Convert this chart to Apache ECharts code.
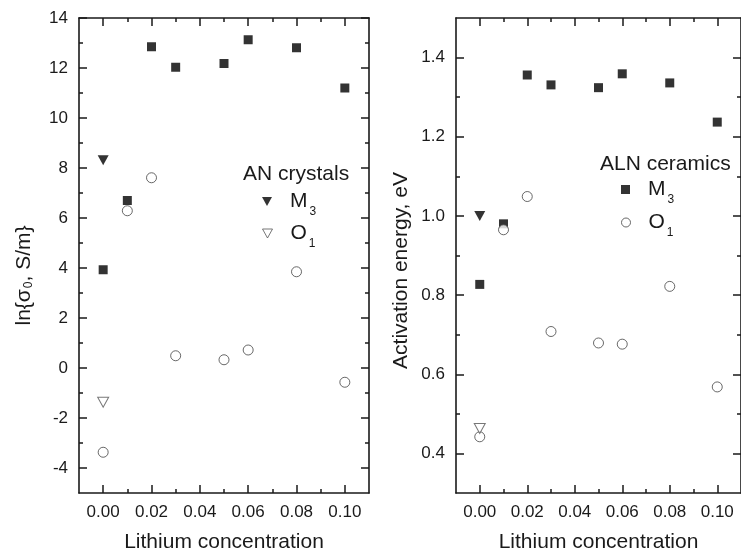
<!DOCTYPE html>
<html><head><meta charset="utf-8">
<script src="https://cdn.jsdelivr.net/npm/echarts@6/dist/echarts.min.js"></script>
<style>html,body{margin:0;padding:0;background:#fff}#c{width:741px;height:558px}</style>
</head><body><div id="c"></div>
<script>
// ---- data ----
const lithium = [0.00, 0.01, 0.02, 0.03, 0.05, 0.06, 0.08, 0.10];
const anLithium = [0.00];
const lnSigmaAlnM3 = [3.93, 6.70, 12.85, 12.03, 12.18, 13.13, 12.81, 11.20];
const lnSigmaAlnO1 = [-3.37, 6.29, 7.61, 0.49, 0.33, 0.72, 3.85, -0.57];
const lnSigmaAnM3 = [8.31];
const lnSigmaAnO1 = [-1.37];
const energyAlnM3 = [0.827, 0.980, 1.356, 1.331, 1.324, 1.359, 1.336, 1.237];
const energyAlnO1 = [0.442, 0.965, 1.049, 0.708, 0.679, 0.676, 0.822, 0.568];
const energyAnM3 = [1.0];
const energyAnO1 = [0.463];
// ---- ticks ----
const xMajorTicks = [0.00, 0.02, 0.04, 0.06, 0.08, 0.10];
const xMinorTicks = [0.01, 0.03, 0.05, 0.07, 0.09];
const lnSigmaMajorTicks = [-4, -2, 0, 2, 4, 6, 8, 10, 12, 14];
const lnSigmaMinorTicks = [-3, -1, 1, 3, 5, 7, 9, 11, 13];
const energyMajorTicks = [0.4, 0.6, 0.8, 1.0, 1.2, 1.4];
const energyMinorTicks = [0.5, 0.7, 0.9, 1.1, 1.3];

const FONT = '"Liberation Sans", Arial, sans-serif';
const INK = '#1a1a1a';
const pairs = (xs, ys) => xs.map((x, i) => [x, ys[i]]);

function mkAxis(gridIndex, position, min, max, ticks, len, main, fmt) {
  return {
    type: 'value', gridIndex, position, min, max,
    axisLine: { show: main, onZero: false, lineStyle: { color: INK, width: 1.6 } },
    axisTick: { show: true, inside: true, length: len, customValues: ticks, lineStyle: { color: INK, width: 1.5 } },
    axisLabel: fmt ? { show: true, customValues: ticks, formatter: fmt, fontSize: 17, fontFamily: FONT, color: INK, margin: 11 } : { show: false },
    splitLine: { show: false }
  };
}

const xFmt = v => v.toFixed(2);
const xAxes = [];
const yAxes = [];
[0, 1].forEach(g => {
  xAxes.push(Object.assign(mkAxis(g, 'bottom', -0.01, 0.11, xMajorTicks, 8, true, xFmt), {
    name: 'Lithium concentration', nameLocation: 'middle', nameGap: 39,
    nameTextStyle: { fontSize: 21, fontFamily: FONT, color: INK }
  }));
  xAxes.push(mkAxis(g, 'bottom', -0.01, 0.11, xMinorTicks, 4, false, null));
  xAxes.push(mkAxis(g, 'top', -0.01, 0.11, xMajorTicks, 8, true, null));
  xAxes.push(mkAxis(g, 'top', -0.01, 0.11, xMinorTicks, 4, false, null));
});
// left grid y
yAxes.push(Object.assign(mkAxis(0, 'left', -5, 14, lnSigmaMajorTicks, 8, true, v => String(v)), {
  name: '{m|ln{σ}{s|0}{m|, S/m}}', nameLocation: 'middle', nameGap: 44,
  nameTextStyle: { fontSize: 21, fontFamily: FONT, color: INK, padding: [0, 40, 0, 0],
    rich: { m: { fontSize: 21, fontFamily: FONT, color: INK }, s: { fontSize: 12, fontFamily: FONT, color: INK, padding: [10, 0, 0, 1] } } }
}));
yAxes.push(mkAxis(0, 'left', -5, 14, lnSigmaMinorTicks, 4, false, null));
yAxes.push(mkAxis(0, 'right', -5, 14, lnSigmaMajorTicks, 8, true, null));
yAxes.push(mkAxis(0, 'right', -5, 14, lnSigmaMinorTicks, 4, false, null));
// right grid y
yAxes.push(Object.assign(mkAxis(1, 'left', 0.3, 1.5, energyMajorTicks, 8, true, v => v.toFixed(1)), {
  name: 'Activation energy, eV', nameLocation: 'middle', nameGap: 44,
  nameTextStyle: { fontSize: 21, fontFamily: FONT, color: INK, padding: [0, 30, 0, 0] }
}));
yAxes.push(mkAxis(1, 'left', 0.3, 1.5, energyMinorTicks, 4, false, null));
yAxes.push(mkAxis(1, 'right', 0.3, 1.5, energyMajorTicks, 8, true, null));
yAxes.push(mkAxis(1, 'right', 0.3, 1.5, energyMinorTicks, 4, false, null));

const TRI_DOWN = 'path://M0,0L10,0L5,9Z';
const styles = {
  sq: { symbol: 'rect', symbolSize: 9, itemStyle: { color: '#000' } },
  ci: { symbol: 'circle', symbolSize: 10, itemStyle: { color: '#fff', borderColor: '#444', borderWidth: 1 } },
  triF: { symbol: TRI_DOWN, symbolSize: [11, 10], itemStyle: { color: '#000' } },
  triO: { symbol: TRI_DOWN, symbolSize: [11, 10], itemStyle: { color: '#fff', borderColor: '#555', borderWidth: 1 } }
};
function sc(name, g, st, data) {
  const ax = g * 4;
  return Object.assign({ type: 'scatter', name, xAxisIndex: ax, yAxisIndex: ax, data, z: 3 }, styles[st]);
}
const series = [
  sc('L_ALN_M3', 0, 'sq', pairs(lithium, lnSigmaAlnM3)),
  sc('L_ALN_O1', 0, 'ci', pairs(lithium, lnSigmaAlnO1)),
  sc('AN_M3', 0, 'triF', pairs(anLithium, lnSigmaAnM3)),
  sc('AN_O1', 0, 'triO', pairs(anLithium, lnSigmaAnO1)),
  sc('ALN_M3', 1, 'sq', pairs(lithium, energyAlnM3)),
  sc('ALN_O1', 1, 'ci', pairs(lithium, energyAlnO1)),
  sc('R_AN_M3', 1, 'triF', pairs(anLithium, energyAnM3)),
  sc('R_AN_O1', 1, 'triO', pairs(anLithium, energyAnO1))
];

const legendRich = {
  m: { fontSize: 21, fontFamily: FONT, color: INK },
  s: { fontSize: 12, fontFamily: FONT, color: INK, padding: [20, 0, 0, 2] }
};
function lg(name, icon, left, top, w, h, st) {
  return {
    data: [{ name, icon }], left, top, padding: 0, orient: 'vertical', selectedMode: false,
    itemWidth: w, itemHeight: h, symbolKeepAspect: false,
    itemStyle: st,
    formatter: n => n.endsWith('M3') ? '{m|M}{s|3}' : '{m|O}{s|1}',
    textStyle: { rich: legendRich, padding: [0, 0, 0, 13] }
  };
}

const option = {
  animation: false,
  backgroundColor: '#fff',
  grid: [
    { left: 79, top: 18, width: 290, height: 480 },
    { left: 456, top: 18, width: 290, height: 480 }
  ],
  title: [
    { text: 'AN crystals', left: 243, top: 164, padding: 0, textStyle: { fontSize: 21, fontWeight: 'normal', fontFamily: FONT, color: INK } },
    { text: 'ALN ceramics', left: 600, top: 154, padding: 0, textStyle: { fontSize: 21, fontWeight: 'normal', fontFamily: FONT, color: INK } }
  ],
  legend: [
    lg('AN_M3', TRI_DOWN, 262, 191, 10, 9, { color: '#000' }),
    lg('AN_O1', TRI_DOWN, 262, 223, 10, 9, { color: '#fff', borderColor: '#555', borderWidth: 1 }),
    lg('ALN_M3', 'rect', 621, 179, 9, 9, { color: '#000' }),
    lg('ALN_O1', 'circle', 621, 212, 9, 9, { color: '#fff', borderColor: '#444', borderWidth: 1 })
  ],
  xAxis: xAxes,
  yAxis: yAxes,
  series
};
echarts.init(document.getElementById('c'), null, { renderer: 'canvas' }).setOption(option);
</script>
</body></html>
